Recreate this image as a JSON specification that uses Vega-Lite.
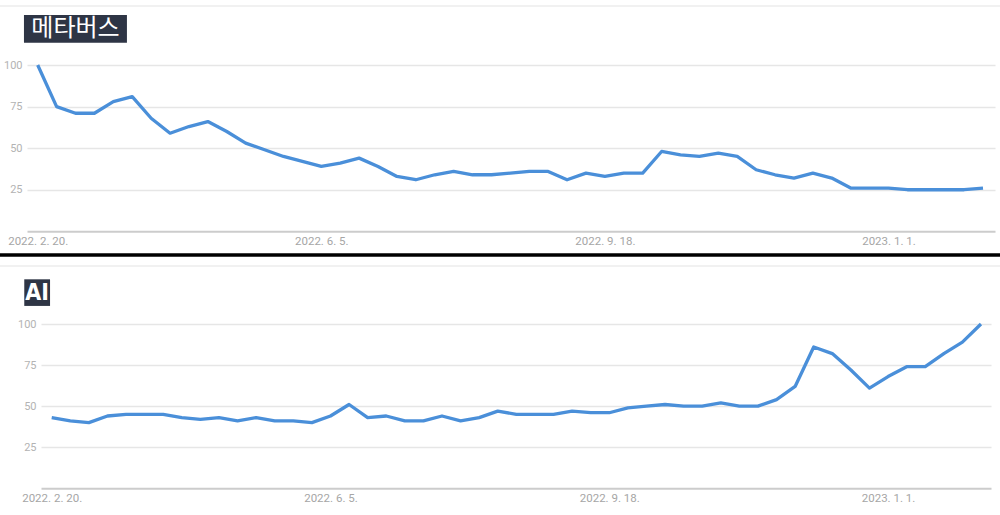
{
  "$schema": "https://vega.github.io/schema/vega-lite/v6.json",
  "width": 1000,
  "height": 515,
  "autosize": "none",
  "padding": 0,
  "background": "white",
  "config": {"view": {"stroke": null}, "font": "Roboto"},
  "datasets": {
    "metaverse": [
      {"week": "2022/02/20", "interest": 100}, {"week": "2022/02/27", "interest": 75}, {"week": "2022/03/06", "interest": 71},
      {"week": "2022/03/13", "interest": 71}, {"week": "2022/03/20", "interest": 78}, {"week": "2022/03/27", "interest": 81},
      {"week": "2022/04/03", "interest": 68}, {"week": "2022/04/10", "interest": 59}, {"week": "2022/04/17", "interest": 63},
      {"week": "2022/04/24", "interest": 66}, {"week": "2022/05/01", "interest": 60}, {"week": "2022/05/08", "interest": 53},
      {"week": "2022/05/15", "interest": 49}, {"week": "2022/05/22", "interest": 45}, {"week": "2022/05/29", "interest": 42},
      {"week": "2022/06/05", "interest": 39}, {"week": "2022/06/12", "interest": 41}, {"week": "2022/06/19", "interest": 44},
      {"week": "2022/06/26", "interest": 39}, {"week": "2022/07/03", "interest": 33}, {"week": "2022/07/10", "interest": 31},
      {"week": "2022/07/17", "interest": 34}, {"week": "2022/07/24", "interest": 36}, {"week": "2022/07/31", "interest": 34},
      {"week": "2022/08/07", "interest": 34}, {"week": "2022/08/14", "interest": 35}, {"week": "2022/08/21", "interest": 36},
      {"week": "2022/08/28", "interest": 36}, {"week": "2022/09/04", "interest": 31}, {"week": "2022/09/11", "interest": 35},
      {"week": "2022/09/18", "interest": 33}, {"week": "2022/09/25", "interest": 35}, {"week": "2022/10/02", "interest": 35},
      {"week": "2022/10/09", "interest": 48}, {"week": "2022/10/16", "interest": 46}, {"week": "2022/10/23", "interest": 45},
      {"week": "2022/10/30", "interest": 47}, {"week": "2022/11/06", "interest": 45}, {"week": "2022/11/13", "interest": 37},
      {"week": "2022/11/20", "interest": 34}, {"week": "2022/11/27", "interest": 32}, {"week": "2022/12/04", "interest": 35},
      {"week": "2022/12/11", "interest": 32}, {"week": "2022/12/18", "interest": 26}, {"week": "2022/12/25", "interest": 26},
      {"week": "2023/01/01", "interest": 26}, {"week": "2023/01/08", "interest": 25}, {"week": "2023/01/15", "interest": 25},
      {"week": "2023/01/22", "interest": 25}, {"week": "2023/01/29", "interest": 25}, {"week": "2023/02/05", "interest": 26}
    ],
    "ai": [
      {"week": "2022/02/20", "interest": 43}, {"week": "2022/02/27", "interest": 41}, {"week": "2022/03/06", "interest": 40},
      {"week": "2022/03/13", "interest": 44}, {"week": "2022/03/20", "interest": 45}, {"week": "2022/03/27", "interest": 45},
      {"week": "2022/04/03", "interest": 45}, {"week": "2022/04/10", "interest": 43}, {"week": "2022/04/17", "interest": 42},
      {"week": "2022/04/24", "interest": 43}, {"week": "2022/05/01", "interest": 41}, {"week": "2022/05/08", "interest": 43},
      {"week": "2022/05/15", "interest": 41}, {"week": "2022/05/22", "interest": 41}, {"week": "2022/05/29", "interest": 40},
      {"week": "2022/06/05", "interest": 44}, {"week": "2022/06/12", "interest": 51}, {"week": "2022/06/19", "interest": 43},
      {"week": "2022/06/26", "interest": 44}, {"week": "2022/07/03", "interest": 41}, {"week": "2022/07/10", "interest": 41},
      {"week": "2022/07/17", "interest": 44}, {"week": "2022/07/24", "interest": 41}, {"week": "2022/07/31", "interest": 43},
      {"week": "2022/08/07", "interest": 47}, {"week": "2022/08/14", "interest": 45}, {"week": "2022/08/21", "interest": 45},
      {"week": "2022/08/28", "interest": 45}, {"week": "2022/09/04", "interest": 47}, {"week": "2022/09/11", "interest": 46},
      {"week": "2022/09/18", "interest": 46}, {"week": "2022/09/25", "interest": 49}, {"week": "2022/10/02", "interest": 50},
      {"week": "2022/10/09", "interest": 51}, {"week": "2022/10/16", "interest": 50}, {"week": "2022/10/23", "interest": 50},
      {"week": "2022/10/30", "interest": 52}, {"week": "2022/11/06", "interest": 50}, {"week": "2022/11/13", "interest": 50},
      {"week": "2022/11/20", "interest": 54}, {"week": "2022/11/27", "interest": 62}, {"week": "2022/12/04", "interest": 86},
      {"week": "2022/12/11", "interest": 82}, {"week": "2022/12/18", "interest": 72}, {"week": "2022/12/25", "interest": 61},
      {"week": "2023/01/01", "interest": 68}, {"week": "2023/01/08", "interest": 74}, {"week": "2023/01/15", "interest": 74},
      {"week": "2023/01/22", "interest": 82}, {"week": "2023/01/29", "interest": 89}, {"week": "2023/02/05", "interest": 100}
    ]
  },
  "layer": [
    {
      "layer": [
        {
          "data": {"name": "metaverse"},
          "mark": {"type": "line", "color": "#4a8fd9", "strokeWidth": 3.3, "strokeJoin": "round"},
          "encoding": {
            "x": {
              "field": "week", "type": "temporal",
              "scale": {"domain": [{"year": 2022, "month": 2, "date": 16, "hours": 1}, {"year": 2023, "month": 2, "date": 9, "hours": 10, "minutes": 30}], "range": [27, 995], "nice": false},
              "axis": {"orient": "bottom", "offset": -283.7, "title": null, "grid": false, "ticks": false, "domain": true, "domainColor": "#cccccc", "domainWidth": 2,
                "values": [{"year": 2022, "month": 2, "date": 20}, {"year": 2022, "month": 6, "date": 5}, {"year": 2022, "month": 9, "date": 18}, {"year": 2023, "month": 1, "date": 1}],
                "format": "%Y. %-m. %-d.", "labelColor": "#a6a6a6", "labelFontSize": 11.5, "labelFont": "Roboto", "labelPadding": 4, "labelFlush": false, "labelOverlap": false, "labelBound": false}
            },
            "y": {
              "field": "interest", "type": "quantitative",
              "scale": {"domain": [0, 100], "range": [231.3, 65], "nice": false, "zero": false},
              "axis": {"orient": "left", "offset": -27, "title": null, "values": [25, 50, 75, 100], "grid": true, "gridColor": "#e6e6e6", "gridWidth": 1.3, "domain": false, "ticks": false,
                "labelColor": "#b3b3b3", "labelFontSize": 11, "labelFont": "Roboto", "labelPadding": 5}
            }
          }
        },
        {
          "data": {"values": [{}]},
          "mark": {"type": "rule", "color": "#ececec", "strokeWidth": 1.5},
          "encoding": {"y": {"datum": 135.5, "type": "quantitative"}}
        },
        {
          "data": {"values": [{}]},
          "mark": {"type": "rect", "color": "#2e3545"},
          "encoding": {
            "x": {"datum": {"year": 2022, "month": 2, "date": 14, "hours": 22}, "type": "temporal"},
            "x2": {"datum": {"year": 2022, "month": 3, "date": 25, "hours": 1}},
            "y": {"datum": 130.1, "type": "quantitative"},
            "y2": {"datum": 113.4}
          }
        },
        {
          "data": {"values": [{"label": "메타버스"}]},
          "mark": {"type": "text", "color": "white", "font": "Noto Sans CJK KR", "fontSize": 24, "fontWeight": "normal", "align": "center", "baseline": "middle"},
          "encoding": {
            "x": {"datum": {"year": 2022, "month": 3, "date": 6}, "type": "temporal"},
            "y": {"datum": 121.8, "type": "quantitative"},
            "text": {"field": "label"}
          }
        }
      ]
    },
    {
      "layer": [
        {
          "data": {"name": "ai"},
          "mark": {"type": "line", "color": "#4a8fd9", "strokeWidth": 3.3, "strokeJoin": "round"},
          "encoding": {
            "x": {
              "field": "week", "type": "temporal",
              "scale": {"domain": [{"year": 2022, "month": 2, "date": 15, "hours": 23, "minutes": 15}, {"year": 2023, "month": 2, "date": 8, "hours": 18, "minutes": 30}], "range": [41, 991], "nice": false},
              "axis": {"orient": "bottom", "offset": -26.7, "title": null, "grid": false, "ticks": false, "domain": true, "domainColor": "#cccccc", "domainWidth": 2,
                "values": [{"year": 2022, "month": 2, "date": 20}, {"year": 2022, "month": 6, "date": 5}, {"year": 2022, "month": 9, "date": 18}, {"year": 2023, "month": 1, "date": 1}],
                "format": "%Y. %-m. %-d.", "labelColor": "#a6a6a6", "labelFontSize": 11.5, "labelFont": "Roboto", "labelPadding": 4, "labelFlush": false, "labelOverlap": false, "labelBound": false}
            },
            "y": {
              "field": "interest", "type": "quantitative",
              "scale": {"domain": [0, 100], "range": [488.3, 324], "nice": false, "zero": false},
              "axis": {"orient": "left", "offset": -41, "title": null, "values": [25, 50, 75, 100], "grid": true, "gridColor": "#e6e6e6", "gridWidth": 1.3, "domain": false, "ticks": false,
                "labelColor": "#b3b3b3", "labelFontSize": 11, "labelFont": "Roboto", "labelPadding": 5}
            }
          }
        },
        {
          "data": {"values": [{}]},
          "mark": {"type": "rule", "color": "#ececec", "strokeWidth": 1.5},
          "encoding": {"y": {"datum": 135.3, "type": "quantitative"}}
        },
        {
          "data": {"values": [{}]},
          "mark": {"type": "rule", "color": "#000000", "strokeWidth": 3.4},
          "encoding": {"y": {"datum": 142.0, "type": "quantitative"}}
        },
        {
          "data": {"values": [{}]},
          "mark": {"type": "rect", "color": "#2e3545"},
          "encoding": {
            "x": {"datum": {"year": 2022, "month": 2, "date": 9, "hours": 16}, "type": "temporal"},
            "x2": {"datum": {"year": 2022, "month": 2, "date": 19, "hours": 9}},
            "y": {"datum": 127.2, "type": "quantitative"},
            "y2": {"datum": 111.0}
          }
        },
        {
          "data": {"values": [{"label": "AI"}]},
          "mark": {"type": "text", "color": "white", "font": "DejaVu Sans Condensed", "fontSize": 23, "fontWeight": "bold", "align": "center", "baseline": "middle"},
          "encoding": {
            "x": {"datum": {"year": 2022, "month": 2, "date": 14, "hours": 13}, "type": "temporal"},
            "y": {"datum": 118.6, "type": "quantitative"},
            "text": {"field": "label"}
          }
        }
      ]
    }
  ],
  "resolve": {"scale": {"x": "independent", "y": "independent"}, "axis": {"x": "independent", "y": "independent"}}
}
